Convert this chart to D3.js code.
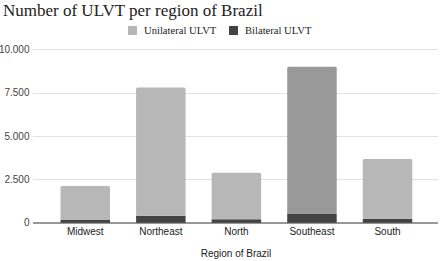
<!DOCTYPE html>
<html>
<head>
<meta charset="utf-8">
<script src="https://cdn.jsdelivr.net/npm/d3@7"></script>
<style>
  body { margin: 0; background: #fff; }
  svg { display: block; }
</style>
</head>
<body>
<div id="chart"></div>
<script>
// data
const regions = ["Midwest", "Northeast", "North", "Southeast", "South"];
const bilateral = [150, 400, 200, 500, 230];
const unilateral = [1970, 7400, 2680, 8500, 3440];
const yTicks = [0, 2500, 5000, 7500, 10000];
const seriesNames = ["Unilateral ULVT", "Bilateral ULVT"];

const width = 440, height = 261;
const colors = { uni: "#b7b7b7", uniHi: "#999999", bi: "#434343" };

let svg = d3.select("#chart").append("svg")
  .attr("width", width)
  .attr("height", height);

// title
svg.append("text")
  .attr("x", 3)
  .attr("y", 16)
  .attr("font-family", "Liberation Serif, Times New Roman, serif")
  .attr("font-size", 17)
  .attr("fill", "#222")
  .text("Number of ULVT per region of Brazil");

// legend
let legend = svg.append("g").attr("font-family", "Liberation Serif, serif").attr("font-size", 10.6);
let legendX = [128, 229];
let legendCol = [colors.uni, colors.bi];
seriesNames.forEach((name, i) => {
  legend.append("rect")
    .attr("x", legendX[i]).attr("y", 26)
    .attr("width", 9).attr("height", 9)
    .attr("fill", legendCol[i]);
  legend.append("text")
    .attr("x", legendX[i] + 16).attr("y", 34)
    .attr("fill", "#222")
    .text(name);
});

// scales
let y = d3.scaleLinear().domain([0, 10000]).range([222.7, 49.3]);
let x = d3.scaleBand().domain(regions).range([47.5, 425.3])
  .paddingInner(0.345).paddingOuter(0.1725);

// grid
svg.append("g")
  .selectAll("line")
  .data(yTicks.filter(d => d > 0))
  .join("line")
  .attr("x1", 33).attr("x2", 438)
  .attr("y1", d => Math.round(y(d)) + 0.5).attr("y2", d => Math.round(y(d)) + 0.5)
  .attr("stroke", "#e2e2e2");

// y labels
let fmt = d => d === 0 ? "0" : d3.format(",")(d).replace(",", ".");
svg.append("g")
  .attr("font-family", "Liberation Sans, Arial, sans-serif")
  .attr("font-size", 10)
  .attr("fill", "#444")
  .selectAll("text")
  .data(yTicks)
  .join("text")
  .attr("x", 29.5)
  .attr("y", d => y(d) + 3.5)
  .attr("text-anchor", "end")
  .text(fmt);

// stacked bars
let stackData = regions.map((r, i) => ({ region: r, bi: bilateral[i], uni: unilateral[i] }));
let stacked = d3.stack().keys(["bi", "uni"])(stackData);

function roundTop(x0, y0, w, h, r) {
  return `M${x0},${y0 + h}V${y0 + r}Q${x0},${y0} ${x0 + r},${y0}H${x0 + w - r}Q${x0 + w},${y0} ${x0 + w},${y0 + r}V${y0 + h}Z`;
}

let bars = svg.append("g");
stacked.forEach(layer => {
  bars.selectAll(null)
    .data(layer)
    .join("path")
    .attr("d", d => {
      let x0 = x(d.data.region), w = x.bandwidth();
      let top = y(d[1]), h = y(d[0]) - y(d[1]);
      return layer.key === "uni" ? roundTop(x0, top, w, h, 1.5) : `M${x0},${top}h${w}v${h}h${-w}Z`;
    })
    .attr("fill", d => layer.key === "bi" ? colors.bi : (d.data.region === "Southeast" ? colors.uniHi : colors.uni));
});

// baseline
svg.append("line")
  .attr("x1", 33).attr("x2", 438)
  .attr("y1", 223).attr("y2", 223)
  .attr("stroke", "#333").attr("stroke-width", 1);

// x labels
svg.append("g")
  .attr("font-family", "Liberation Sans, Arial, sans-serif")
  .attr("font-size", 10)
  .attr("fill", "#222")
  .selectAll("text")
  .data(regions)
  .join("text")
  .attr("x", d => x(d) + x.bandwidth() / 2)
  .attr("y", 235)
  .attr("text-anchor", "middle")
  .text(d => d);

// axis title
svg.append("text")
  .attr("x", 236)
  .attr("y", 257)
  .attr("text-anchor", "middle")
  .attr("font-family", "Liberation Sans, Arial, sans-serif")
  .attr("font-size", 10)
  .attr("fill", "#222")
  .text("Region of Brazil");
</script>
</body>
</html>
